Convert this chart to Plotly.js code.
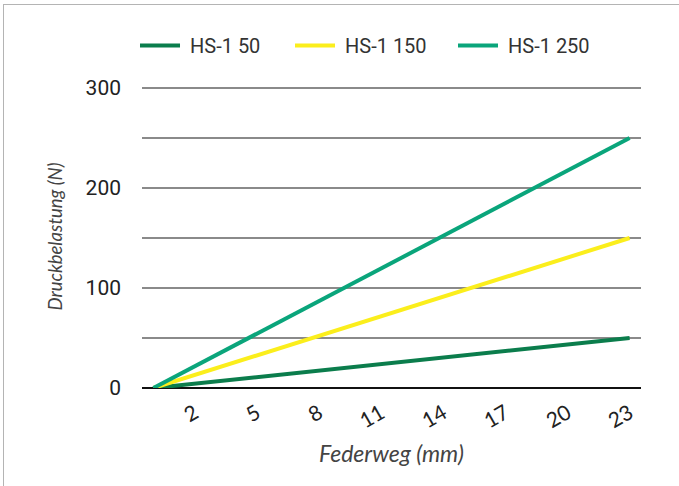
<!DOCTYPE html>
<html>
<head>
<meta charset="utf-8">
<script src="https://cdn.plot.ly/plotly-3.0.1.min.js"></script>
<style>
  html, body { margin: 0; padding: 0; background: #fff; }
  #frame { position: absolute; left: 3px; top: 4px; width: 690px; height: 500px;
           border-top: 1px solid #b4b4b4; border-left: 1px solid #b4b4b4; }
  #chart { position: absolute; left: 0; top: 0; width: 679px; height: 486px; }
</style>
</head>
<body>
<div id="frame"></div>
<div id="chart"></div>
<script>
// Federweg (mm) — spring travel
const travel = [0, 23];
// Druckbelastung (N) — compressive load per spring
const hs1_50  = [0, 50];
const hs1_150 = [0, 150];
const hs1_250 = [0, 250];
const seriesNames = ['HS-1 50', 'HS-1 150', 'HS-1 250'];
const xTicks = [2, 5, 8, 11, 14, 17, 20, 23];
const yTickVals = [0, 50, 100, 150, 200, 250, 300];
const yTickText = ['0', '', '100', '', '200', '', '300'];

const colors = ['#0b7d4c', '#fbee1c', '#0aa57b'];
const legendWidths = [100, 108, 110];
const ys = [hs1_50, hs1_150, hs1_250];

const traces = ys.map((y, i) => ({
  type: 'scatter', mode: 'lines', x: travel, y: y, name: seriesNames[i],
  legendwidth: legendWidths[i],
  line: { color: colors[i], width: 4 }, hoverinfo: 'skip'
}));

const layout = {
  width: 679, height: 486,
  paper_bgcolor: 'rgba(0,0,0,0)', plot_bgcolor: 'rgba(0,0,0,0)',
  margin: { l: 142, r: 38, t: 85, b: 98 },
  font: { family: 'Roboto, sans-serif', color: '#333', size: 20 },
  showlegend: true,
  legend: {
    orientation: 'h', x: -0.004, xanchor: 'left', y: 1.13, yanchor: 'middle',
    itemwidth: 40,
    font: { family: 'Roboto, sans-serif', size: 20, color: '#333' },
    traceorder: 'normal'
  },
  xaxis: {
    range: [-0.55, 23.55], tickvals: xTicks, ticktext: xTicks.map(String),
    tickangle: -30, showgrid: false, zeroline: false, showline: false, ticks: '',
    ticklabelstandoff: 8,
    tickfont: { family: 'Lato, sans-serif', size: 21, color: '#222' },
    title: { text: 'Federweg (mm)', font: { family: 'Lato, sans-serif', size: 23, color: '#444', style: 'italic' }, standoff: 14 }
  },
  yaxis: {
    range: [0, 303], tickvals: yTickVals, ticktext: yTickText,
    showgrid: true, gridcolor: '#8a8a8a', gridwidth: 2,
    zeroline: true, zerolinecolor: '#111', zerolinewidth: 2,
    showline: false, ticks: '', ticklabelstandoff: 20,
    tickfont: { family: 'Roboto, sans-serif', size: 21, color: '#222' },
    title: { text: 'Druckbelastung (N)', font: { family: 'Lato, sans-serif', size: 18.5, color: '#444', style: 'italic' }, standoff: 18 }
  }
};

Plotly.newPlot('chart', traces, layout, { displayModeBar: false, staticPlot: true }).then(() => {
  document.querySelectorAll('#chart .legendlines path').forEach(p => p.setAttribute('d', 'M0,0h40'));
});
</script>
</body>
</html>
